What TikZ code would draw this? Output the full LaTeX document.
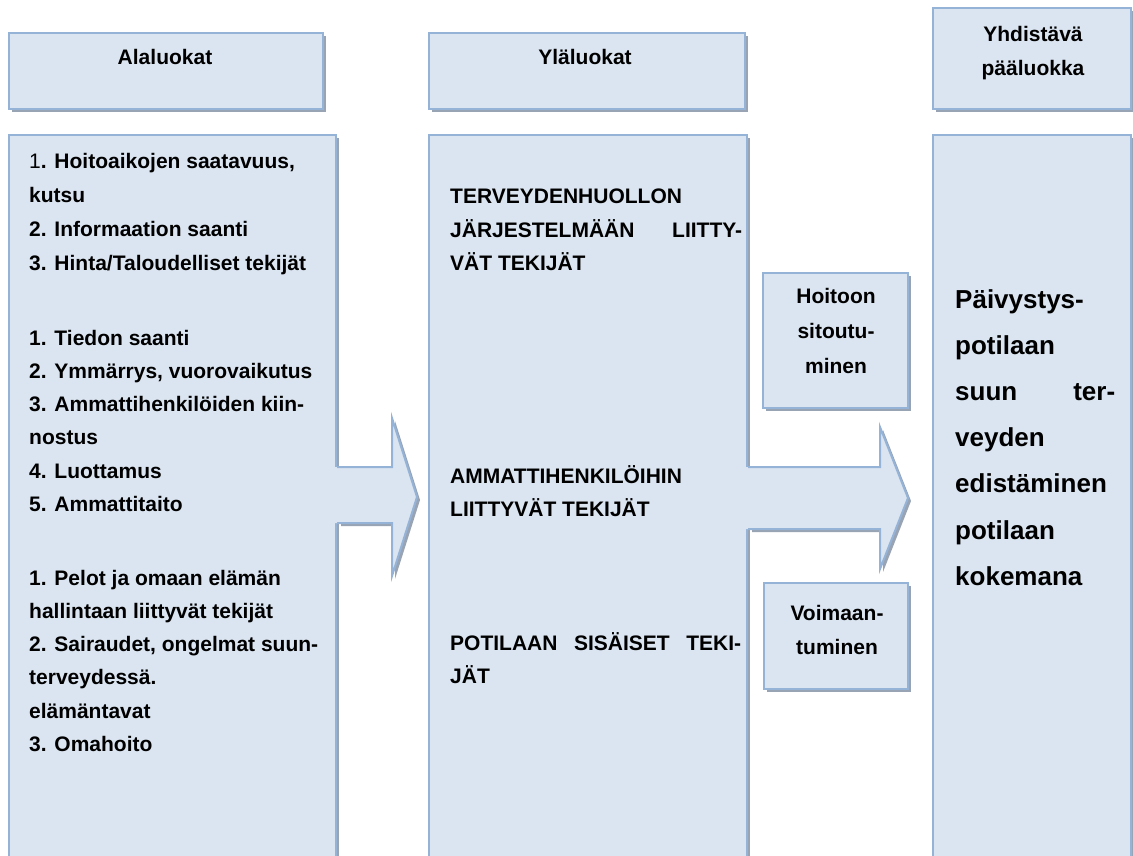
\documentclass[tikz,border=0pt]{standalone}
\usepackage{fontspec}
\setmainfont{Liberation Sans}
\usetikzlibrary{shadows}
\definecolor{boxfill}{HTML}{DBE5F1}
\definecolor{boxline}{HTML}{95B3D7}
\definecolor{shadowc}{HTML}{98A3B3}
\tikzset{
  pane/.style={draw=boxline, fill=boxfill, line width=2pt, inner sep=0pt, anchor=north west,
    drop shadow={shadow xshift=3pt, shadow yshift=-3pt, fill=shadowc, opacity=1}},
  ltxt/.style={anchor=base west, inner sep=0pt, font=\fontsize{21}{25}\selectfont\bfseries},
  ctxt/.style={anchor=base, inner sep=0pt, font=\fontsize{21}{25}\selectfont\bfseries},
  btxt/.style={anchor=base west, inner sep=0pt, font=\fontsize{26}{30}\selectfont\bfseries},
  arrowfill/.style={fill=boxfill},
  arrowline/.style={draw=boxline, line width=2pt, line join=miter},
  arrowshadow/.style={fill=shadowc}
}
\begin{document}
\begin{tikzpicture}[x=1pt,y=-1pt]
\useasboundingbox (0,0) rectangle (1133,856);
\clip (0,0) rectangle (1133,856);
% header boxes
\node[pane, minimum width=314pt, minimum height=76pt] (h1) at (8,32) {};
\node[pane, minimum width=316pt, minimum height=76pt] (h2) at (428,32) {};
\node[pane, minimum width=198pt, minimum height=101pt] (h3) at (932,7) {};
% main boxes
\node[pane, minimum width=327pt, minimum height=740pt] (m1) at (8,134) {};
\node[pane, minimum width=318pt, minimum height=740pt] (m2) at (428,134) {};
\node[pane, minimum width=198pt, minimum height=740pt] (m3) at (932,134) {};
% arrow 1
\fill[arrowshadow, shift={(3,3)}] (338,467) -- (392,467) -- (392,418) -- (417,497) -- (392,576) -- (392,523) -- (338,523) -- cycle;
\fill[arrowfill] (332,467) -- (392,467) -- (392,418) -- (417,497) -- (392,576) -- (392,523) -- (332,523) -- cycle;
\draw[arrowline] (m1.east |- 0,467) -- (392,467) -- (392,418) -- (417,497) -- (392,576) -- (392,523) -- (m1.east |- 0,523);
% arrow 2
\fill[arrowshadow, shift={(3,3)}] (749,467) -- (880,467) -- (880,427) -- (908,498) -- (880,569) -- (880,529) -- (749,529) -- cycle;
\fill[arrowfill] (743,467) -- (880,467) -- (880,427) -- (908,498) -- (880,569) -- (880,529) -- (743,529) -- cycle;
\draw[arrowline] (m2.east |- 0,467) -- (880,467) -- (880,427) -- (908,498) -- (880,569) -- (880,529) -- (m2.east |- 0,529);
% small boxes
\node[pane, minimum width=145pt, minimum height=135pt] (s1) at (762,272) {};
\node[pane, minimum width=144pt, minimum height=106pt] (s2) at (763,582) {};
% header texts
\node[ctxt] (t1) at (165,65) {Alaluokat};
\node[ctxt] (t2) at (585,65) {Yläluokat};
\node[ctxt] (t3a) at (1033,42) {Yhdistävä};
\node[ctxt] (t3b) at (1033,76) {pääluokka};
% left texts
\node[ltxt] (l0) at (29,169) {{\mdseries 1}. Hoitoaikojen saatavuus,};
\node[ltxt] (l1) at (29,203) {kutsu};
\node[ltxt] (l2) at (29,236.5) {2. Informaation saanti};
\node[ltxt] (l3) at (29,270) {3. Hinta/Taloudelliset tekijät};
\node[ltxt] (l5) at (29,345) {1. Tiedon saanti};
\node[ltxt] (l6) at (29,378) {2. Ymmärrys, vuorovaikutus};
\node[ltxt] (l7) at (29,411.5) {3. Ammattihenkilöiden kiin-};
\node[ltxt] (l8) at (29,444.5) {nostus};
\node[ltxt] (l9) at (29,478) {4. Luottamus};
\node[ltxt] (l10) at (29,511) {5. Ammattitaito};
\node[ltxt] (l12) at (29,585) {1. Pelot ja omaan elämän};
\node[ltxt] (l13) at (29,618) {hallintaan liittyvät tekijät};
\node[ltxt] (l14) at (29,651.5) {2. Sairaudet, ongelmat suun-};
\node[ltxt] (l15) at (29,684.5) {terveydessä.};
\node[ltxt] (l16) at (29,718) {elämäntavat};
\node[ltxt] (l17) at (29,751) {3. Omahoito};
% middle texts
\node[ltxt] (c0) at (450,204) {TERVEYDENHUOLLON};
\node[ltxt] (c1) at (450,237) {\hbox to 292pt{JÄRJESTELMÄÄN\hfill LIITTY-}};
\node[ltxt] (c2) at (450,270) {VÄT TEKIJÄT};
\node[ltxt] (c3) at (450,483) {AMMATTIHENKILÖIHIN};
\node[ltxt] (c4) at (450,516) {LIITTYVÄT TEKIJÄT};
\node[ltxt] (c5) at (450,650) {\hbox to 291pt{POTILAAN\hfill SISÄISET\hfill TEKI-}};
\node[ltxt] (c6) at (450,683) {JÄT};
% small box texts
\node[ctxt] (s1a) at (836,303) {Hoitoon};
\node[ctxt] (s1b) at (836,338) {sitoutu-};
\node[ctxt] (s1c) at (836,373) {minen};
\node[ctxt] (s2a) at (837,620) {Voimaan-};
\node[ctxt] (s2b) at (837,654) {tuminen};
% right texts
\node[btxt] (r0) at (955,308) {Päivystys-};
\node[btxt] (r1) at (955,354.2) {potilaan};
\node[btxt] (r2) at (955,400.4) {\hbox to 160pt{suun\hfill ter-}};
\node[btxt] (r3) at (955,446.6) {veyden};
\node[btxt] (r4) at (955,492.8) {edistäminen};
\node[btxt] (r5) at (955,539) {potilaan};
\node[btxt] (r6) at (955,585.2) {kokemana};
\end{tikzpicture}
\end{document}
